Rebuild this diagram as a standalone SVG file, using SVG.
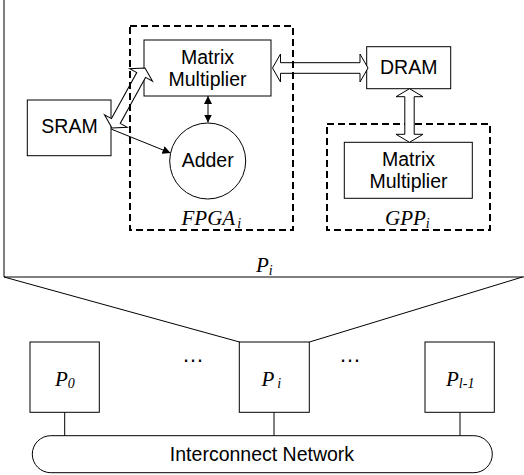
<svg xmlns="http://www.w3.org/2000/svg" width="524" height="475" viewBox="0 0 524 475">
<defs>
<style>
.box{fill:#fff;stroke:#000;stroke-width:1}
.dash{fill:none;stroke:#000;stroke-width:2;stroke-dasharray:7,4}
.ln{fill:none;stroke:#000;stroke-width:1}
.blk{fill:#fff;stroke:#000;stroke-width:1;stroke-linejoin:miter}
.t{font-family:"Liberation Sans",Arial,sans-serif;font-size:19.5px;text-anchor:middle;fill:#000}
.it{font-family:"Liberation Serif","Times New Roman",serif;font-style:italic;font-size:21px;fill:#000}
.sub{font-size:14px}
</style>
<marker id="ah" viewBox="0 0 10 10" refX="10" refY="5" markerWidth="8" markerHeight="8" markerUnits="userSpaceOnUse" orient="auto-start-reverse">
<path d="M0,0 L10,5 L0,10 z" fill="#000"/>
</marker>
</defs>

<g id="frame">
<path class="ln" d="M4,-2 V277 H524.5" stroke-width="1.3"/>
<text class="it" x="256" y="271.5">P<tspan class="sub" dy="3">i</tspan></text>
</g>

<g id="gpp">
<rect class="dash" x="327" y="124" width="163" height="106"/>
<text class="it" x="385" y="225">GPP<tspan class="sub" dy="3">i</tspan></text>
</g>

<g id="mm1">
<rect class="box" x="144" y="40" width="127" height="56"/>
<text class="t" x="207.5" y="64">Matrix</text>
<text class="t" x="207.5" y="86">Multiplier</text>
</g>

<g id="adder">
<circle class="box" cx="207.7" cy="161" r="38"/>
<text class="t" x="207.7" y="166.7">Adder</text>
</g>

<g id="sram">
<rect class="box" x="27.3" y="100" width="83.7" height="55.7"/>
<text class="t" x="69.5" y="133.3">SRAM</text>
</g>

<g id="dram">
<rect class="box" x="366.7" y="46.7" width="84" height="42"/>
<text class="t" x="408.7" y="74">DRAM</text>
</g>

<g id="mm2">
<rect class="box" x="344.3" y="142.3" width="128" height="56"/>
<text class="t" x="408.5" y="166">Matrix</text>
<text class="t" x="408.5" y="187.5">Multiplier</text>
</g>

<g id="p0">
<rect class="box" x="30" y="342" width="69.3" height="70.3"/>
<text class="it" x="55" y="386">P<tspan class="sub" dy="2">0</tspan></text>
</g>

<g id="pi">
<rect class="box" x="239.3" y="342" width="70" height="70.3"/>
<text class="it" x="261.5" y="386">P<tspan class="sub" dx="3" dy="2">i</tspan></text>
</g>

<g id="pl1">
<rect class="box" x="425" y="342" width="69.3" height="70.3"/>
<text class="it" x="446" y="386">P<tspan class="sub" dy="2">l-1</tspan></text>
</g>

<g id="dots">
<text class="t" x="193" y="362" style="font-size:22px">…</text>
<text class="t" x="350" y="362" style="font-size:22px">…</text>
</g>

<g id="network">
<rect class="box" x="32.3" y="435.7" width="460" height="37" rx="18.5" ry="18.5"/>
<text class="t" x="262" y="460.5">Interconnect Network</text>
</g>

<g id="connectors">
<polygon class="blk" points="272.5,68 280.5,54 280.5,62.7 360,62.7 360,54 368,68 360,82 360,73.3 280.5,73.3 280.5,82"/>
<polygon class="blk" points="409.5,88.7 423,96.7 414.2,96.7 414.2,134.3 423,134.3 409.5,142.3 396,134.3 404.8,134.3 404.8,96.7 396,96.7"/>
<polygon class="blk" transform="translate(112,128) rotate(-61.2)" points="0,0 8,-13 8,-5 60.5,-5 60.5,-13 68.5,0 60.5,13 60.5,5 8,5 8,13"/>
<line class="ln" x1="208" y1="96" x2="208" y2="122.5" marker-start="url(#ah)" marker-end="url(#ah)"/>
<line class="ln" x1="111" y1="129" x2="170.5" y2="153" marker-end="url(#ah)"/>
<line class="ln" x1="4" y1="277" x2="239.5" y2="342"/>
<line class="ln" x1="522.5" y1="277" x2="309.5" y2="342"/>
<line class="ln" x1="64.7" y1="412.3" x2="64.7" y2="435.7"/>
<line class="ln" x1="274" y1="412.3" x2="274" y2="435.7"/>
<line class="ln" x1="460" y1="412.3" x2="460" y2="435.7"/>
</g>

<g id="fpga">
<rect class="dash" x="130" y="26" width="163" height="204"/>
<text class="it" x="181.5" y="225">FPGA<tspan class="sub" dx="2" dy="3">i</tspan></text>
</g>
</svg>
